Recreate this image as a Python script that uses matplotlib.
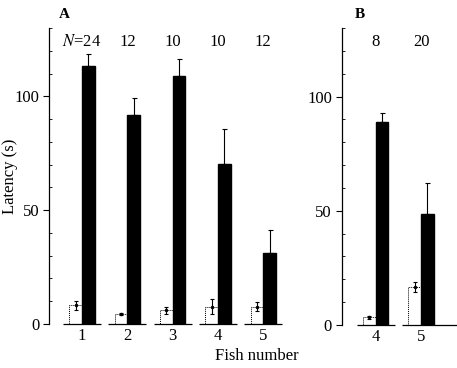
import numpy as np
import matplotlib.pyplot as plt
from matplotlib.ticker import MultipleLocator

plt.rcParams['font.family'] = ['Liberation Serif', 'DejaVu Serif']
plt.rcParams['mathtext.fontset'] = 'stix'

# Panel A
fish_a = ['1', '2', '3', '4', '5']
n_a = ['$N$=24', '12', '10', '10', '12']
open_a = [8.3, 4.4, 6.0, 7.6, 7.6]
open_err_a = [2.0, 0.6, 1.5, 3.4, 2.0]
black_a = [113.3, 92.0, 109.0, 70.5, 31.0]
black_err_a = [5.2, 7.3, 7.6, 15.2, 10.3]

# Panel B
fish_b = ['4', '5']
n_b = ['8', '20']
open_b = [3.4, 16.6]
open_err_b = [0.6, 2.2]
black_b = [89.0, 48.4]
black_err_b = [3.6, 13.6]

fs = 12
fig = plt.figure(figsize=(4.57, 3.68), dpi=100)
ax_a = fig.add_axes([0.1072, 0.1196, 0.549, 0.804])
ax_b = fig.add_axes([0.7477, 0.1168, 0.2523, 0.807])

w = 0.28


def draw_panel(ax, fish, ns, opn, opn_err, blk, blk_err, xlim, seg_right=None):
    x = np.arange(len(fish))
    ax.bar(x - w / 2, opn, w, color='white', edgecolor='black', linewidth=0.7,
           linestyle=(0, (1, 1)), zorder=2)
    ax.errorbar(x - w / 2, opn, yerr=opn_err, fmt='.', color='black', ms=3,
                elinewidth=0.8, capsize=1.5, capthick=0.8, zorder=3)
    ax.bar(x + w / 2, blk, w, color='black', edgecolor='black', zorder=2)
    ax.errorbar(x + w / 2, blk, yerr=[np.zeros(len(blk)), blk_err], fmt='none',
                ecolor='black', elinewidth=0.8, capsize=1.8, capthick=0.8, zorder=1)
    # short baseline segments under each group
    for i, xi in enumerate(x):
        right = xi + 0.42
        if seg_right is not None and i == len(x) - 1:
            right = seg_right
        ax.plot([xi - 0.42, right], [0, 0], color='black', lw=0.9,
                solid_capstyle='butt', clip_on=False)
    for xi, n in zip(x, ns):
        ax.text(xi, 124, n, ha='center', va='center', fontsize=fs)
    ax.set_xlim(*xlim)
    ax.set_ylim(0, 130)
    ax.set_xticks(x)
    ax.set_xticklabels(fish, fontsize=fs)
    ax.tick_params(axis='x', length=0, pad=3)
    ax.set_yticks([0, 50, 100])
    ax.yaxis.set_minor_locator(MultipleLocator(10))
    ax.tick_params(axis='y', which='major', direction='out', length=4, width=0.8,
                   labelsize=fs, pad=3)
    ax.tick_params(axis='y', which='minor', direction='in', length=2, width=0.6)
    for s in ['top', 'right', 'bottom']:
        ax.spines[s].set_visible(False)
    ax.spines['left'].set_linewidth(0.9)
    ax.patch.set_alpha(0)


draw_panel(ax_a, fish_a, n_a, open_a, open_err_a, black_a, black_err_a, (-0.73, 4.81))
ax_a.set_ylabel('Latency (s)', fontsize=fs)
ax_a.yaxis.set_label_coords(-0.125, 0.5)
ax_a.text(3.85, -14, 'Fish number', ha='center', va='center', fontsize=fs,
          clip_on=False)
ax_a.text(-0.4, 136, 'A', fontsize=fs - 1, fontweight='bold', ha='center', va='center')

draw_panel(ax_b, fish_b, n_b, open_b, open_err_b, black_b, black_err_b, (-0.75, 1.79),
           seg_right=1.79)
ax_b.text(-0.35, 136, 'B', fontsize=fs - 1, fontweight='bold', ha='center', va='center')

fig.savefig('out.png', dpi=100)
